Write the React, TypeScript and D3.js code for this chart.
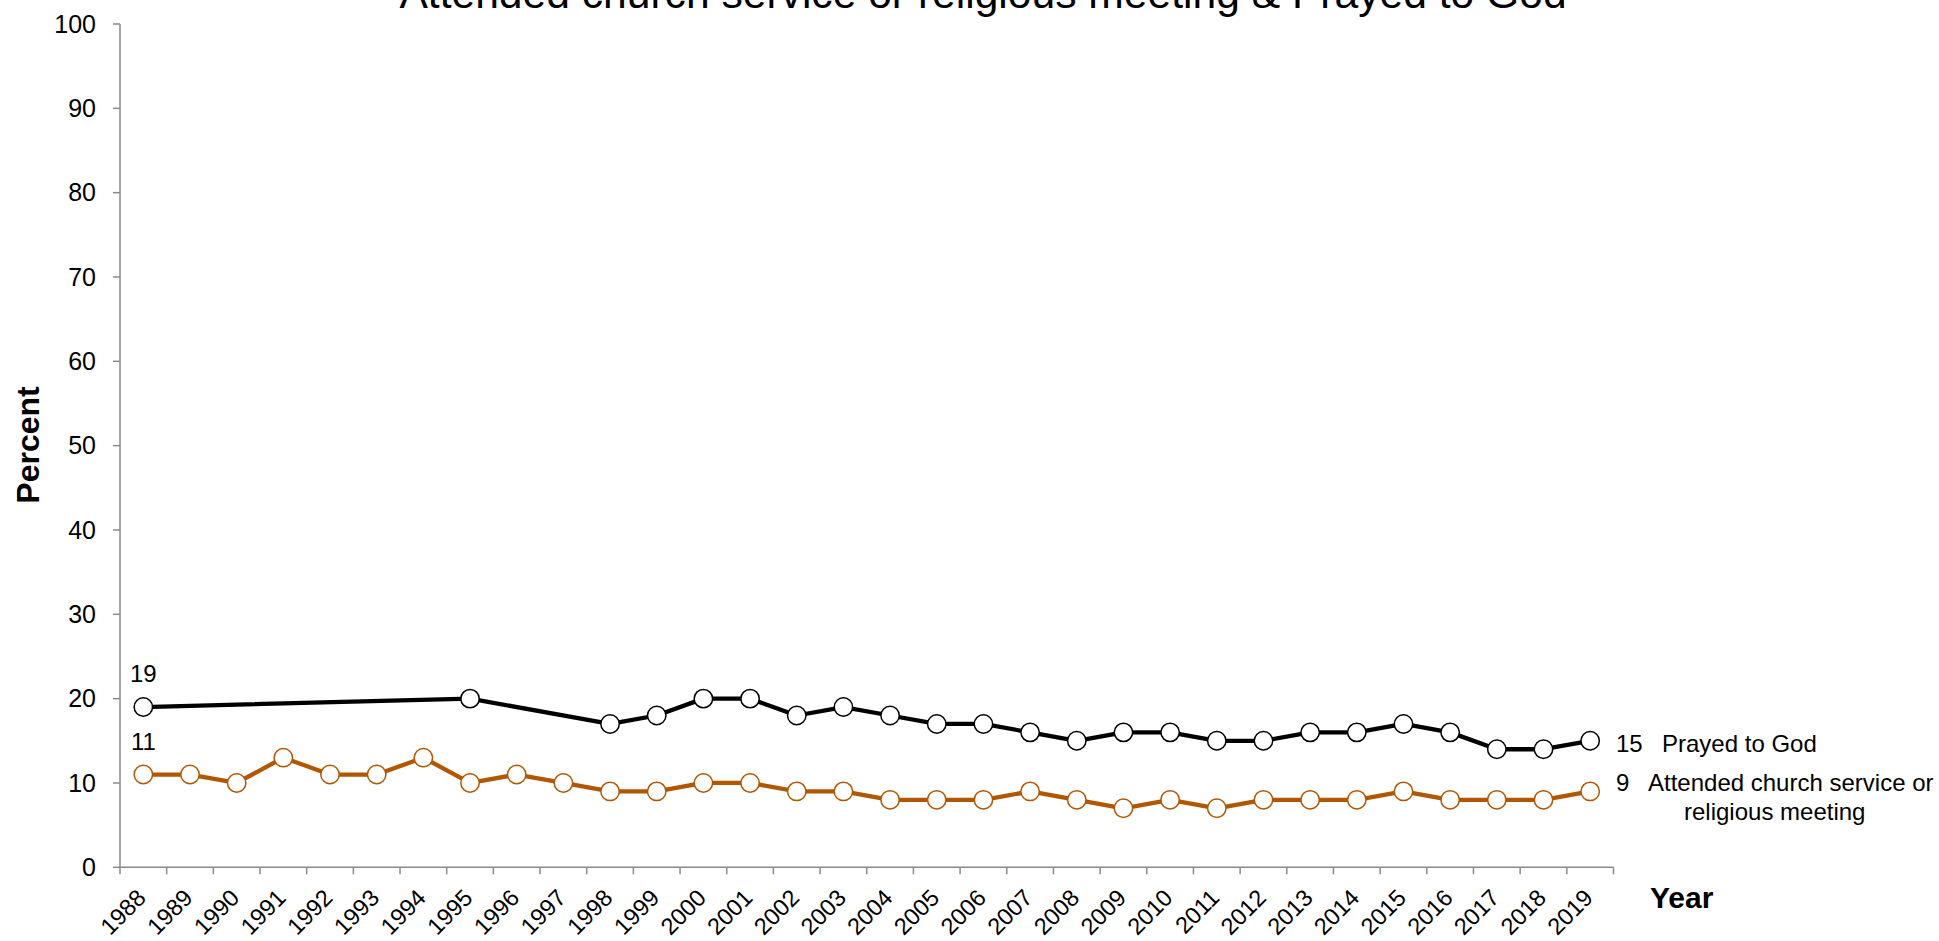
import React, { useEffect, useRef } from 'react';
import * as d3 from 'd3';

const years = [
  '1988', '1989', '1990', '1991', '1992', '1993', '1994', '1995', '1996', '1997', '1998',
  '1999', '2000', '2001', '2002', '2003', '2004', '2005', '2006', '2007', '2008', '2009',
  '2010', '2011', '2012', '2013', '2014', '2015', '2016', '2017', '2018', '2019',
];

// null = not asked that year
const prayed: (number | null)[] = [
  19, null, null, null, null, null, null, 20, null, null, 17, 18, 20, 20, 18, 19, 18, 17, 17, 16, 15, 16,
  16, 15, 15, 16, 16, 17, 16, 14, 14, 15,
];

const attended: (number | null)[] = [
  11, 11, 10, 13, 11, 11, 13, 10, 11, 10, 9, 9, 10, 10, 9, 9, 8, 8, 8, 9, 8, 7, 8, 7, 8, 8, 8, 9, 8, 8, 8, 9,
];

const yTicks = [0, 10, 20, 30, 40, 50, 60, 70, 80, 90, 100];

const title = 'Attended church service or religious meeting & Prayed to God';

interface Pt {
  year: string;
  value: number;
}

const W = 1939;
const H = 941;
const FONT = "'Liberation Sans', Arial, sans-serif";

const App: React.FC = () => {
  const svgRef = useRef<SVGSVGElement | null>(null);

  useEffect(() => {
    if (!svgRef.current) return;
    const svg = d3.select(svgRef.current);
    svg.selectAll('*').remove();

    const margin = { left: 120, right: 1613.5, top: 24, bottom: 867.3 };
    const axisColor = '#8a8a8a';

    const x = d3.scaleBand<string>().domain(years).range([margin.left, margin.right]).padding(0);
    const y = d3.scaleLinear().domain([0, 100]).range([margin.bottom, margin.top]);
    const cx = (yr: string) => (x(yr) as number) + x.bandwidth() / 2;

    // title (clipped at top like the original)
    svg
      .append('text')
      .attr('x', 983)
      .attr('y', 8)
      .attr('text-anchor', 'middle')
      .attr('font-size', 42.6)
      .attr('fill', '#000')
      .text(title);

    // y axis
    const yAxis = svg.append('g');
    yAxis
      .append('line')
      .attr('x1', margin.left)
      .attr('x2', margin.left)
      .attr('y1', y(100))
      .attr('y2', y(0))
      .attr('stroke', axisColor)
      .attr('stroke-width', 1.5);
    yTicks.forEach((t) => {
      yAxis
        .append('line')
        .attr('x1', margin.left - 7)
        .attr('x2', margin.left)
        .attr('y1', y(t))
        .attr('y2', y(t))
        .attr('stroke', axisColor)
        .attr('stroke-width', 1.5);
      yAxis
        .append('text')
        .attr('x', 96)
        .attr('y', y(t))
        .attr('dy', '0.35em')
        .attr('text-anchor', 'end')
        .attr('font-size', 25)
        .text(t);
    });

    // x axis
    const xAxis = svg.append('g');
    xAxis
      .append('line')
      .attr('x1', margin.left)
      .attr('x2', margin.right)
      .attr('y1', y(0))
      .attr('y2', y(0))
      .attr('stroke', axisColor)
      .attr('stroke-width', 1.5);
    const bounds = years.map((yr) => x(yr) as number).concat([margin.right]);
    bounds.forEach((b) => {
      xAxis
        .append('line')
        .attr('x1', b)
        .attr('x2', b)
        .attr('y1', y(0))
        .attr('y2', y(0) + 7)
        .attr('stroke', axisColor)
        .attr('stroke-width', 1.5);
    });
    years.forEach((yr) => {
      const px = cx(yr) + 4;
      const py = y(0) + 32;
      xAxis
        .append('text')
        .attr('transform', `translate(${px},${py}) rotate(-45)`)
        .attr('text-anchor', 'end')
        .attr('font-size', 23.5)
        .text(yr);
    });

    // axis titles
    svg
      .append('text')
      .attr('transform', `translate(39,445) rotate(-90)`)
      .attr('text-anchor', 'middle')
      .attr('font-size', 32)
      .attr('font-weight', 'bold')
      .text('Percent');
    svg
      .append('text')
      .attr('x', 1650)
      .attr('y', 908)
      .attr('font-size', 30)
      .attr('font-weight', 'bold')
      .text('Year');

    const toPts = (vals: (number | null)[]): Pt[] =>
      years.map((yr, i) => ({ year: yr, value: vals[i] as number })).filter((d, i) => vals[i] != null);

    const line = d3
      .line<Pt>()
      .x((d) => cx(d.year))
      .y((d) => y(d.value));

    const series = [
      { pts: toPts(attended), color: '#b35600' },
      { pts: toPts(prayed), color: '#000000' },
    ];

    series.forEach((s) => {
      svg
        .append('path')
        .datum(s.pts)
        .attr('fill', 'none')
        .attr('stroke', s.color)
        .attr('stroke-width', 4.3)
        .attr('stroke-linejoin', 'round')
        .attr('d', line);
      svg
        .append('g')
        .selectAll('circle')
        .data(s.pts)
        .join('circle')
        .attr('cx', (d) => cx(d.year))
        .attr('cy', (d) => y(d.value))
        .attr('r', 9.2)
        .attr('fill', '#fff')
        .attr('stroke', s.color)
        .attr('stroke-width', 1.5);

      // first value label above first point
      const first = s.pts[0];
      svg
        .append('text')
        .attr('x', cx(first.year))
        .attr('y', y(first.value) - 25)
        .attr('text-anchor', 'middle')
        .attr('font-size', 24)
        .text(first.value);
    });

    // end labels
    const lastP = toPts(prayed).slice(-1)[0];
    const lastA = toPts(attended).slice(-1)[0];
    svg
      .append('text')
      .attr('x', 1616)
      .attr('y', y(lastP.value) + 11)
      .attr('font-size', 24)
      .text(lastP.value);
    svg
      .append('text')
      .attr('x', 1662)
      .attr('y', y(lastP.value) + 11)
      .attr('font-size', 24)
      .text('Prayed to God');
    svg
      .append('text')
      .attr('x', 1616)
      .attr('y', y(lastA.value))
      .attr('font-size', 24)
      .text(lastA.value);
    svg
      .append('text')
      .attr('x', 1648)
      .attr('y', y(lastA.value))
      .attr('font-size', 24)
      .text('Attended church service or');
    svg
      .append('text')
      .attr('x', 1684)
      .attr('y', y(lastA.value) + 29)
      .attr('font-size', 24)
      .text('religious meeting');
  }, []);

  return (
    <svg
      ref={svgRef}
      width={W}
      height={H}
      style={{ position: 'absolute', left: 0, top: 0, background: '#fff', fontFamily: FONT, display: 'block' }}
    />
  );
};

export default App;
